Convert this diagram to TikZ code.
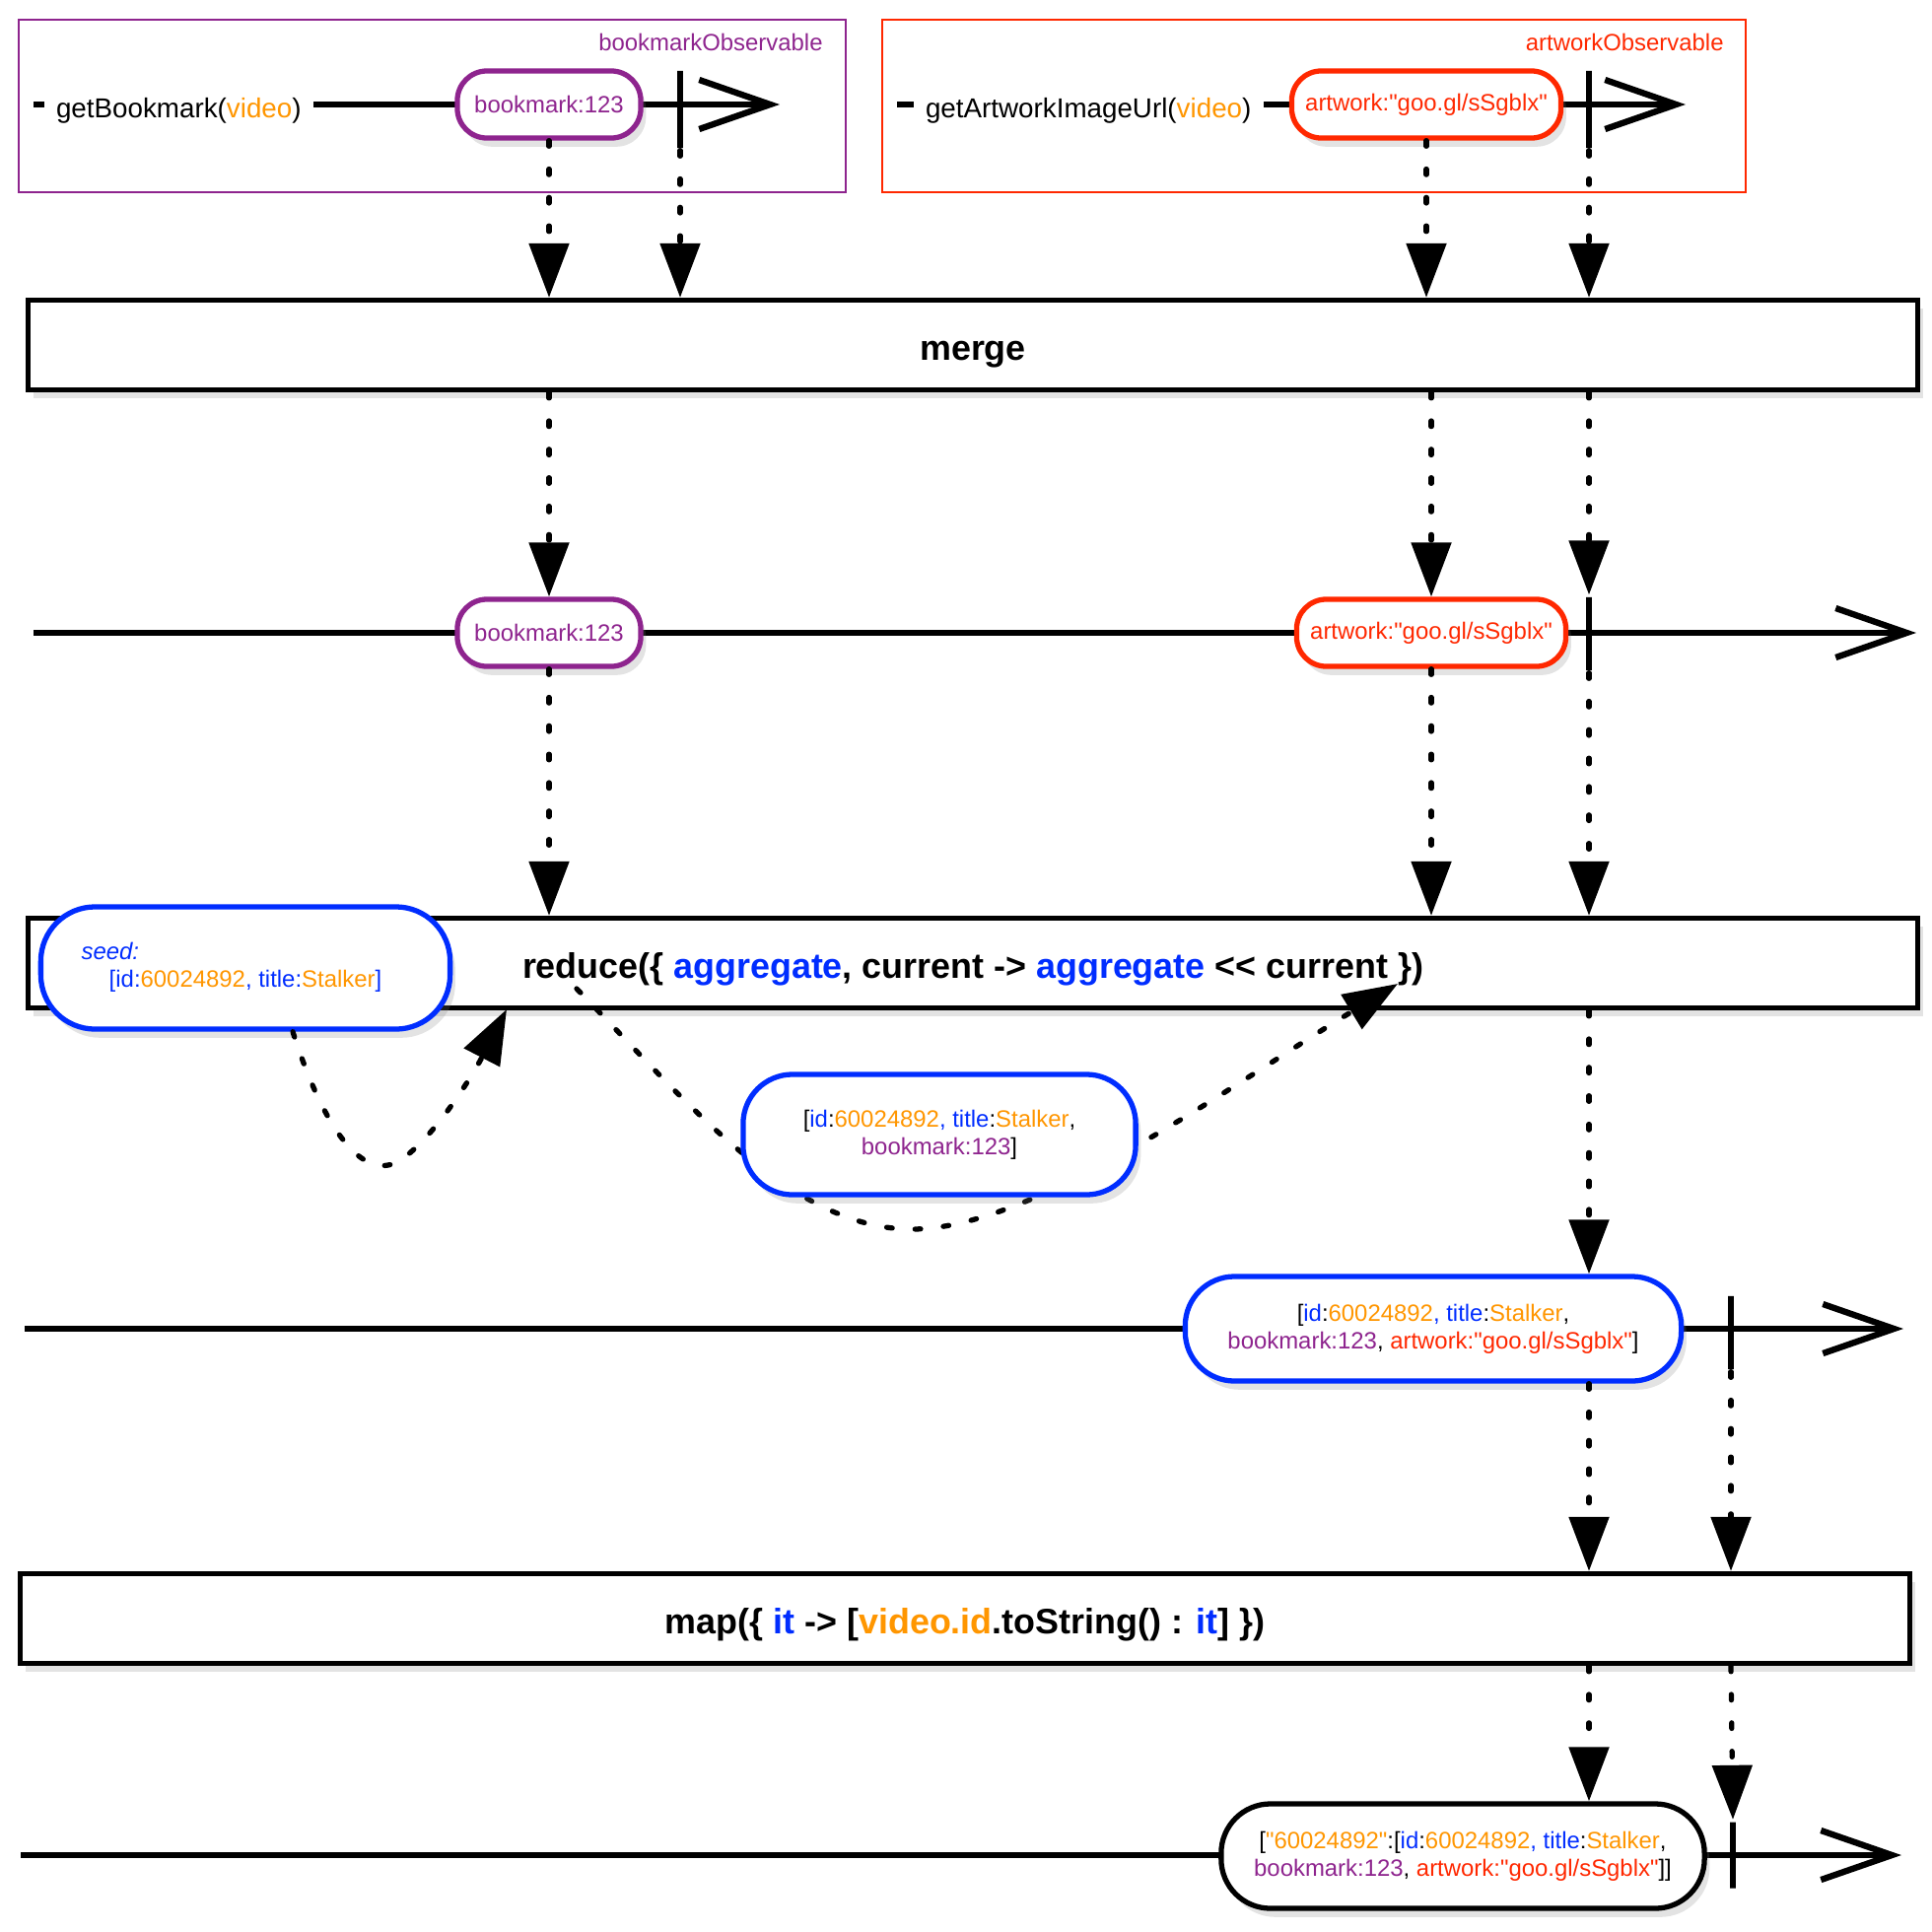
\documentclass[tikz,border=0pt]{standalone}
\usepackage{fontspec}
\setmainfont{Liberation Sans}[Ligatures=TeXOff]
\usetikzlibrary{arrows.meta,shadows}

\definecolor{purp}{RGB}{142,36,142}
\definecolor{artred}{RGB}{255,40,0}
\definecolor{keyblue}{RGB}{0,45,255}
\definecolor{valorange}{RGB}{255,150,0}
\newcommand{\ckb}[1]{\textcolor{keyblue}{#1}}
\newcommand{\cvo}[1]{\textcolor{valorange}{#1}}
\newcommand{\cpu}[1]{\textcolor{purp}{#1}}
\newcommand{\car}[1]{\textcolor{artred}{#1}}

\tikzset{
  softshadow/.style={drop shadow={opacity=.22,shadow xshift=1.5pt,shadow yshift=-2.5pt}},
  timeline/.style={line width=1.5pt,-{Straight Barb[length=7.2mm,width=5mm,line width=1.8pt]}},
  flow/.style={line width=1.5pt,dash pattern=on 1.6pt off 6.6pt,line cap=round,-{Triangle[length=5.5mm,width=4mm]}},
  pill/.style={draw,line width=1.5pt,fill=white,rounded corners=3mm,minimum width=1.86cm,minimum height=6.8mm,inner sep=0pt,font=\fontsize{6.8}{7.9}\selectfont,softshadow},
  bigpill/.style={pill,rounded corners=5mm},
  opbox/.style={draw,line width=1.5pt,fill=white,minimum width=19.16cm,minimum height=9.1mm,text height=10.8pt,text depth=2.2pt,font=\fontsize{10.2}{12}\selectfont\bfseries,softshadow},
  endbar/.style={draw,line width=1.5pt,inner sep=0pt,minimum width=0pt,minimum height=#1},
  call/.style={fill=white,anchor=west,inner xsep=3.5pt,inner ysep=2pt,text height=9.4pt,text depth=1.6pt,font=\fontsize{7.9}{9}\selectfont},
  obslabel/.style={anchor=east,font=\fontsize{6.8}{8}\selectfont}
}

\begin{document}
\begin{tikzpicture}[x=0.01cm,y=-0.01cm]
  \useasboundingbox (0,0) rectangle (1960,1960);
  \draw[purp,line width=.6pt] (19,20) rectangle (858,195);
  \draw[artred,line width=.6pt] (895,20) rectangle (1771,195);
  \node[obslabel,text=purp] (bmlabel) at (847,43) {bookmarkObservable};
  \node[obslabel,text=artred] (artlabel) at (1761,43) {artworkObservable};

  \coordinate (bmstart) at (34,106);
  \coordinate (bmend) at (791,106);
  \coordinate (artstart) at (910,106);
  \coordinate (artend) at (1710,106);
  \draw[timeline] (bmstart) -- (bmend);
  \draw[timeline] (artstart) -- (artend);
  \node[call] (bmcall) at (44,106) {getBookmark(\cvo{video})};
  \node[call] (artcall) at (926,106) {getArtworkImageUrl(\cvo{video})};
  \node[pill,draw=purp,text=purp] (bm1) at (557,106) {bookmark:123};
  \node[pill,draw=artred,text=artred,minimum width=2.73cm] (art1) at (1447,106) {artwork:"goo.gl/sSgblx"};
  \node[endbar=7.8mm] (bmdone) at (690,111) {};
  \node[endbar=7.8mm] (artdone) at (1612,111) {};

  \node[opbox] (merge) at (987,350) {merge};
  \path[flow] (bm1.south) edge (bm1.south |- merge.north)
              (bmdone.south) edge (bmdone.south |- merge.north)
              (art1.south) edge (art1.south |- merge.north)
              (artdone.south) edge (artdone.south |- merge.north);

  \coordinate (mergedstart) at (34,642);
  \coordinate (mergedend) at (1944,642);
  \draw[timeline] (mergedstart) -- (mergedend);
  \node[pill,draw=purp,text=purp] (bm2) at (557,642) {bookmark:123};
  \node[pill,draw=artred,text=artred,minimum width=2.73cm] (art2) at (1452,642) {artwork:"goo.gl/sSgblx"};
  \node[endbar=7.4mm] (mergedone) at (1612,643) {};
  \path[flow] (bm2.north |- merge.south) edge (bm2.north)
              (art2.north |- merge.south) edge (art2.north)
              (mergedone.north |- merge.south) edge (mergedone.north);

  \node[opbox] (reduce) at (987,977) {reduce(\{ \ckb{aggregate}, current -> \ckb{aggregate} << current \})};
  \path[flow] (bm2.south) edge (bm2.south |- reduce.north)
              (art2.south) edge (art2.south |- reduce.north)
              (mergedone.south) edge (mergedone.south |- reduce.north);

  \node[bigpill,draw=keyblue,minimum width=4.15cm,minimum height=1.24cm,rounded corners=5.5mm] (seed) at (249,982)
    {\begin{tabular}{@{}l@{}}\ckb{\itshape seed:}\\ \hspace*{8pt}\ckb{[id:}\cvo{60024892}\ckb{, title:}\cvo{Stalker}\ckb{]}\end{tabular}\hspace{8pt}\mbox{}};
  \coordinate (seedin) at (514,1024);
  \coordinate (accout) at (585,1003);
  \coordinate (accin) at (1418,998);
  \draw[flow] ([xshift=4.8mm]seed.south) .. controls (330,1150) and (370,1200) .. (406,1177)
              .. controls (440,1155) and (480,1090) .. (seedin);
  \draw[flow] (accout) .. controls (690,1110) and (800,1247) .. (925,1247)
              .. controls (1050,1247) and (1250,1100) .. (accin);
  \node[bigpill,draw=keyblue,minimum width=3.98cm,minimum height=1.22cm,align=center] (acc) at (953,1151)
    {[\ckb{id}:\cvo{60024892}\ckb{, title}:\cvo{Stalker},\\\cpu{bookmark:123}]};

  \coordinate (reducedstart) at (25,1348);
  \coordinate (reducedend) at (1931,1348);
  \draw[timeline] (reducedstart) -- (reducedend);
  \node[bigpill,draw=keyblue,minimum width=5.03cm,minimum height=1.06cm,align=center] (result) at (1454,1348)
    {[\ckb{id}:\cvo{60024892}\ckb{, title}:\cvo{Stalker},\\\cpu{bookmark:123}, \car{artwork:"goo.gl/sSgblx"}]};
  \node[endbar=7.4mm] (reducedone) at (1756,1352) {};
  \path[flow] (mergedone.south |- reduce.south) edge (mergedone.south |- result.north);

  \node[opbox] (map) at (979,1642) {map(\{ \ckb{it} -> [\cvo{video.id}.toString() : \ckb{it}] \})};
  \path[flow] (mergedone.south |- result.south) edge (mergedone.south |- map.north)
              (reducedone.south) edge (reducedone.south |- map.north);

  \coordinate (mappedstart) at (21,1882);
  \coordinate (mappedend) at (1929,1882);
  \draw[timeline] (mappedstart) -- (mappedend);
  \node[bigpill,draw=black,minimum width=4.9cm,minimum height=1.06cm,align=center] (mapped) at (1484,1883)
    {[\cvo{"60024892"}:[\ckb{id}:\cvo{60024892}\ckb{, title}:\cvo{Stalker},\\\cpu{bookmark:123}, \car{artwork:"goo.gl/sSgblx"}]]};
  \node[endbar=6.7mm] (mapdone) at (1758,1882) {};
  \path[flow] (mergedone.south |- map.south) edge (mergedone.south |- mapped.north)
              (reducedone.south |- map.south) edge (mapdone.north);
\end{tikzpicture}
\end{document}
